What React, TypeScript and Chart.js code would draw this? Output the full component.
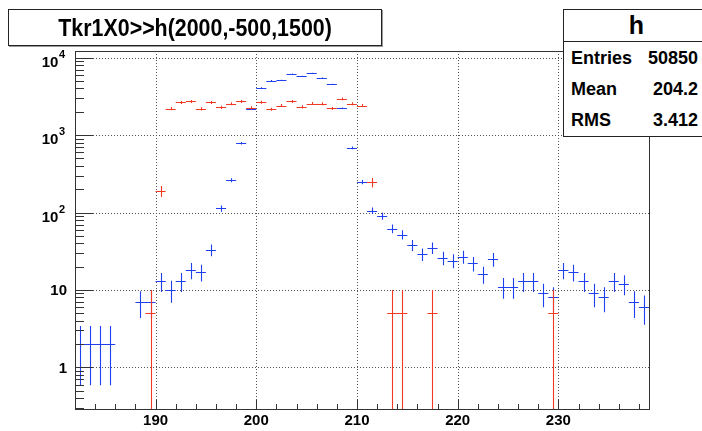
import React, { useEffect, useRef } from 'react';
import { Chart, registerables } from 'chart.js';

Chart.register(...registerables);

// ---- data ----
const blueX = [182.5, 183.5, 184.5, 185.5, 188.5, 189.5, 190.5, 191.5, 192.5, 193.5, 194.5, 195.5, 196.5, 197.5, 198.5, 199.5, 200.5, 201.5, 202.5, 203.5, 204.5, 205.5, 206.5, 207.5, 208.5, 209.5, 210.5, 211.5, 212.5, 213.5, 214.5, 215.5, 216.5, 217.5, 218.5, 219.5, 220.5, 221.5, 222.5, 223.5, 224.5, 225.5, 226.5, 227.5, 228.5, 229.5, 230.5, 231.5, 232.5, 233.5, 234.5, 235.5, 236.5, 237.5, 238.5];
const blueY = [2, 2, 2, 2, 7, 7, 13, 10, 13, 18, 17, 33, 113, 262, 787, 2150, 4100, 5070, 5120, 6180, 5770, 6310, 5480, 4550, 2230, 684, 247, 106, 90, 62, 52, 38, 29, 35, 26, 24, 27, 22, 16, 25, 11, 11, 13, 13, 9, 8, 18, 17, 13, 9, 8, 13, 12, 7, 6];
const blueWeight = 1;

const redX = [189.5, 190.5, 191.5, 192.5, 193.5, 194.5, 195.5, 196.5, 197.5, 198.5, 199.5, 200.5, 201.5, 202.5, 203.5, 204.5, 205.5, 206.5, 207.5, 208.5, 209.5, 210.5, 211.5, 213.5, 214.5, 217.5, 229.5];
const redY = [5, 190, 2200, 2640, 2720, 2180, 2640, 2280, 2540, 2720, 2250, 2660, 2160, 2410, 2720, 2320, 2560, 2540, 2210, 2940, 2540, 2410, 245, 5, 5, 5, 5];
const redWeight = 5;

const binWidth = 1;

const xMajorTicks = [190, 200, 210, 220, 230];
const xTickLabels = ['190', '200', '210', '220', '230'];
const yMajorTicks = [1, 10, 100, 1000, 10000];
const yTickBase = ['1', '10', '10', '10', '10'];
const yTickExp = ['', '', '2', '3', '4'];

const titleText = 'Tkr1X0>>h(2000,-500,1500)';
const statsName = 'h';
const statsLabels = ['Entries', 'Mean', 'RMS'];
const statsValues = ['50850', '204.2', '3.412'];

const X_MIN = 182;
const X_MAX = 239;
const Y_MIN = 0.29;
const Y_MAX = 12200;

const BLUE = '#1f3ff0';
const RED = '#f03a22';
const FONT = '"Liberation Sans", Arial, Helvetica, sans-serif';

const crisp = (v: number) => Math.round(v) + 0.5;

const rootPlugin = {
  id: 'rootStyle',
  beforeDatasetsDraw(chart: any) {
    const { ctx, chartArea: a, scales } = chart;
    const xs = scales.x;
    const ys = scales.y;
    ctx.save();
    ctx.strokeStyle = '#555';
    ctx.lineWidth = 1;
    ctx.setLineDash([1, 2]);
    ctx.beginPath();
    for (const t of xMajorTicks) {
      const px = crisp(xs.getPixelForValue(t));
      ctx.moveTo(px, a.top);
      ctx.lineTo(px, a.bottom);
    }
    for (const t of yMajorTicks) {
      const py = crisp(ys.getPixelForValue(t));
      ctx.moveTo(a.left, py);
      ctx.lineTo(a.right, py);
    }
    ctx.stroke();
    ctx.restore();
  },
  afterDatasetsDraw(chart: any) {
    const { ctx, chartArea: a, scales } = chart;
    const xs = scales.x;
    const ys = scales.y;

    const drawSeries = (xv: number[], yv: number[], w: number, color: string) => {
      ctx.save();
      ctx.beginPath();
      ctx.rect(a.left, a.top, a.right - a.left, a.bottom - a.top);
      ctx.clip();
      ctx.strokeStyle = color;
      ctx.lineWidth = 1.1;
      ctx.beginPath();
      for (let i = 0; i < xv.length; i++) {
        const v = yv[i];
        const e = Math.sqrt(w * v);
        const px = crisp(xs.getPixelForValue(xv[i]));
        const x0 = xs.getPixelForValue(xv[i] - binWidth / 2);
        const x1 = xs.getPixelForValue(xv[i] + binWidth / 2);
        const py = crisp(ys.getPixelForValue(v));
        const lo = v - e;
        const pyLo = lo > Y_MIN ? ys.getPixelForValue(lo) : a.bottom;
        const pyHi = ys.getPixelForValue(v + e);
        ctx.moveTo(x0, py);
        ctx.lineTo(x1, py);
        ctx.moveTo(px, pyLo);
        ctx.lineTo(px, pyHi);
      }
      ctx.stroke();
      ctx.restore();
    };
    drawSeries(blueX, blueY, blueWeight, BLUE);
    drawSeries(redX, redY, redWeight, RED);

    // frame
    ctx.save();
    ctx.strokeStyle = '#333';
    ctx.lineWidth = 1;
    ctx.strokeRect(crisp(a.left), crisp(a.top), Math.round(a.right - a.left), Math.round(a.bottom - a.top));

    // x ticks
    ctx.beginPath();
    for (let v = Math.ceil(X_MIN / 2) * 2; v <= X_MAX; v += 2) {
      const px = crisp(xs.getPixelForValue(v));
      const len = v % 10 === 0 ? 9 : 5;
      ctx.moveTo(px, a.bottom);
      ctx.lineTo(px, a.bottom - len);
    }
    // y ticks (log)
    for (let d = -1; d <= 4; d++) {
      for (let m = 1; m <= 9; m++) {
        const v = m * Math.pow(10, d);
        if (v < Y_MIN || v > Y_MAX) continue;
        const py = crisp(ys.getPixelForValue(v));
        const len = m === 1 ? 18 : 9;
        ctx.moveTo(a.left, py);
        ctx.lineTo(a.left + len, py);
      }
    }
    ctx.stroke();

    // x labels
    ctx.fillStyle = '#000';
    ctx.font = `bold 15px ${FONT}`;
    ctx.textAlign = 'center';
    ctx.textBaseline = 'middle';
    xMajorTicks.forEach((t, i) => {
      ctx.fillText(xTickLabels[i], xs.getPixelForValue(t), 421);
    });

    // y labels
    yMajorTicks.forEach((t, i) => {
      const py = ys.getPixelForValue(t);
      if (yTickExp[i]) {
        ctx.font = `bold 11px ${FONT}`;
        ctx.textAlign = 'right';
        ctx.textBaseline = 'middle';
        const supW = ctx.measureText(yTickExp[i]).width;
        ctx.fillText(yTickExp[i], 65, py - 3);
        ctx.font = `bold 15px ${FONT}`;
        ctx.fillText(yTickBase[i], 65 - supW - 0.5, py + 5);
      } else {
        ctx.font = `bold 15px ${FONT}`;
        ctx.textAlign = 'right';
        ctx.textBaseline = 'middle';
        ctx.fillText(yTickBase[i], 67, py + 1);
      }
    });
    ctx.restore();
  },
};

export default function App() {
  const canvasRef = useRef<HTMLCanvasElement | null>(null);

  useEffect(() => {
    const canvas = canvasRef.current;
    if (!canvas) return;
    const chart = new Chart(canvas, {
      type: 'scatter',
      data: {
        datasets: [
          { label: 'blue', data: blueX.map((x, i) => ({ x, y: blueY[i] })), pointRadius: 0, borderColor: BLUE },
          { label: 'red', data: redX.map((x, i) => ({ x, y: redY[i] })), pointRadius: 0, borderColor: RED },
        ],
      },
      options: {
        animation: false,
        responsive: false,
        maintainAspectRatio: false,
        devicePixelRatio: 1,
        layout: { padding: { left: 0, right: 702 - 649, top: 51, bottom: 0 } },
        plugins: { legend: { display: false }, tooltip: { enabled: false }, title: { display: false } },
        events: [],
        scales: {
          x: {
            type: 'linear',
            min: X_MIN,
            max: X_MAX,
            grid: { display: false },
            border: { display: false },
            ticks: { display: false },
            afterFit: (s: any) => { s.height = 431 - 409; },
          },
          y: {
            type: 'logarithmic',
            min: Y_MIN,
            max: Y_MAX,
            grid: { display: false },
            border: { display: false },
            ticks: { display: false },
            afterFit: (s: any) => { s.width = 75; },
          },
        },
      },
      plugins: [rootPlugin],
    } as any);
    return () => chart.destroy();
  }, []);

  return (
    <div style={{ position: 'fixed', left: 0, top: 0, width: 702, height: 431, overflow: 'hidden', background: '#fff', fontFamily: FONT }}>
      <canvas ref={canvasRef} width={702} height={431} style={{ position: 'absolute', left: 0, top: 0, width: 702, height: 431 }} />
      <div style={{ position: 'absolute', left: 8, top: 9, width: 372, height: 35, border: '1px solid #222', boxShadow: '1px 1px 0 #999', background: '#fff', display: 'flex', alignItems: 'center', justifyContent: 'center', fontWeight: 'bold', color: '#000', whiteSpace: 'nowrap' }}>
        <span style={{ display: 'inline-block', fontSize: '23px', transform: 'scaleX(0.93)', lineHeight: '30px' }}>{titleText}</span>
      </div>
      <div style={{ position: 'absolute', left: 563, top: 9, width: 145, height: 126, border: '1px solid #222', background: '#fff', fontWeight: 'bold', color: '#000' }}>
        <div style={{ height: 31, borderBottom: '1px solid #222', display: 'flex', alignItems: 'center', justifyContent: 'center', fontSize: '25px' }}>{statsName}</div>
        {statsLabels.map((lab, i) => (
          <div key={lab} style={{ position: 'absolute', left: 0, top: 36 + i * 31, width: 134, height: 24, fontSize: '18px', lineHeight: '24px' }}>
            <span style={{ position: 'absolute', left: 7 }}>{lab}</span>
            <span style={{ position: 'absolute', right: 0 }}>{statsValues[i]}</span>
          </div>
        ))}
      </div>
    </div>
  );
}
